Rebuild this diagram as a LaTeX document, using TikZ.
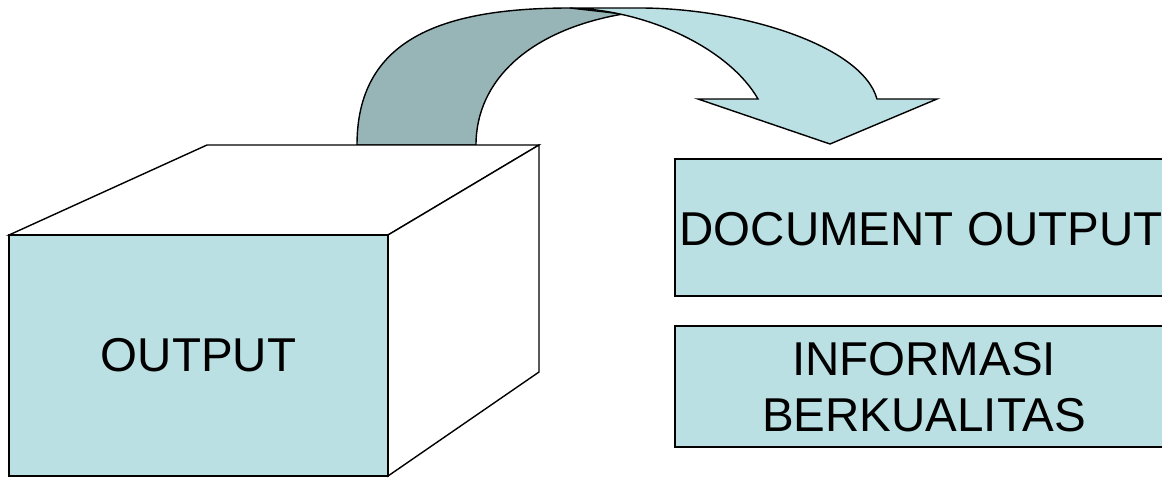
\documentclass[tikz,border=0pt]{standalone}
\usepackage{fontspec}
\setmainfont{Liberation Sans}
\definecolor{paleteal}{RGB}{187,224,227}
\definecolor{shadeteal}{RGB}{151,180,182}
\tikzset{
  outline/.style={draw=black, line width=1.4pt, line join=miter},
  facebox/.style={outline, fill=paleteal, inner sep=0pt,
    font=\fontsize{47.5}{56}\selectfont, align=center},
  label text/.style={inner sep=0pt, font=\fontsize{47.5}{56}\selectfont, align=center},
}
\begin{document}
\begin{tikzpicture}[x=1pt, y=-1pt]
  \useasboundingbox (0,0) rectangle (1162,477);

  % curved arrow: back (shaded) part
  \path[outline, fill=shadeteal]
    (357,145) .. controls (357,40) and (440,8) .. (570,8)
    -- (623,14) .. controls (530,30) and (476,80) .. (476,145) -- cycle;

  % curved arrow: front part with head
  \path[outline, fill=paleteal]
    (570,8) -- (640,8) .. controls (740,8) and (862,45) .. (877,99)
    -- (937,99) -- (830,144) -- (698,99) -- (758,99)
    .. controls (730,50) and (650,10) .. (570,8) -- cycle;

  % cube
  \path[outline, fill=white] (9,235) -- (207,145) -- (539,145) -- (388,235) -- cycle;
  \path[outline, fill=white] (388,235) -- (539,145) -- (539,372) -- (388,476) -- cycle;
  \node[facebox, minimum width=379pt, minimum height=241pt] (cube) at (198.5,355.5) {OUTPUT};

  % result boxes (they run on past the right edge)
  \path[outline, fill=paleteal] (675,159) rectangle (1175,296);
  \path[outline, fill=paleteal] (675,326) rectangle (1175,447);
  \node[label text] (doc) at (921,229.5) {DOCUMENT OUTPUT};
  \node[label text] (info) at (924,387.5) {INFORMASI\\BERKUALITAS};
\end{tikzpicture}
\end{document}
